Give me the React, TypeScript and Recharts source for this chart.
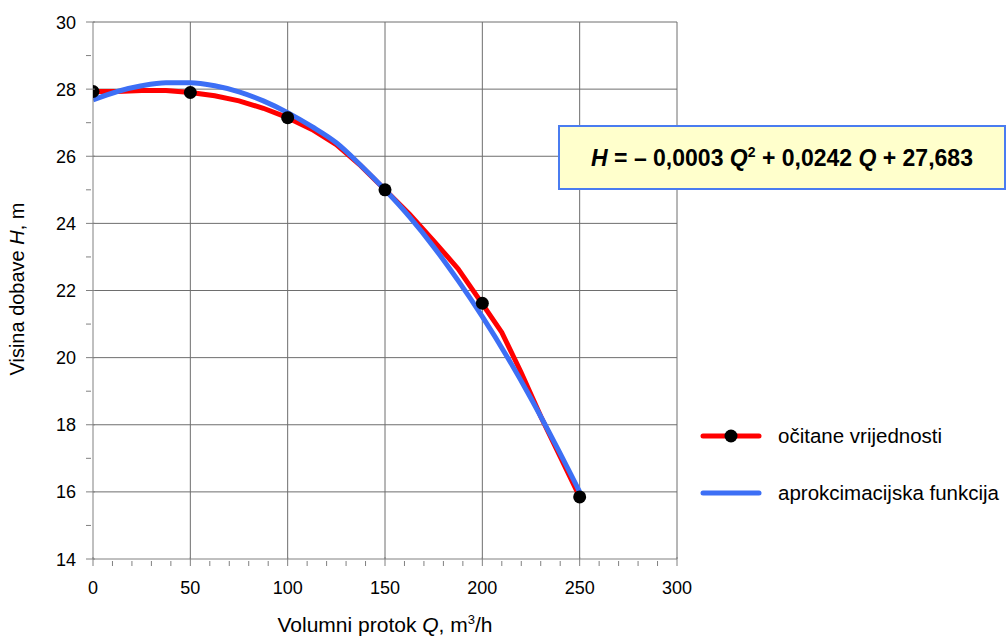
/**
 * Pump curve H(Q): read values with smoothed fit.
 */
import {
  ComposedChart, Line, Scatter, XAxis, YAxis, ReferenceLine,
} from "recharts"

// read curve (očitane vrijednosti)
const READ_Q = [0, 12.5, 25, 37.5, 50, 62.5, 75, 87.5, 100, 112.5, 125, 137.5, 150, 162.5, 175, 187.5, 200, 210, 220, 230, 240, 250]
const READ_H = [27.93, 27.93, 27.96, 27.96, 27.9, 27.8, 27.65, 27.43, 27.15, 26.8, 26.35, 25.72, 25.0, 24.28, 23.48, 22.65, 21.6, 20.75, 19.55, 18.25, 17.05, 15.85]

// markers on the read curve
const POINT_Q = [0, 50, 100, 150, 200, 250]
const POINT_H = [27.93, 27.9, 27.15, 25.0, 21.62, 15.85]

// approximation (aprokcimacijska funkcija)
const FIT_Q = [0, 12.5, 25, 37.5, 50, 62.5, 75, 87.5, 100, 112.5, 125, 137.5, 150, 162.5, 175, 187.5, 200, 212.5, 225, 237.5, 250]
const FIT_H = [27.68, 27.93, 28.1, 28.19, 28.19, 28.1, 27.92, 27.65, 27.3, 26.88, 26.4, 25.73, 25.0, 24.2, 23.3, 22.3, 21.22, 20.05, 18.78, 17.42, 16.0]

const X_MAJOR = [0, 50, 100, 150, 200, 250, 300]
const Y_MAJOR = [14, 16, 18, 20, 22, 24, 26, 28, 30]
const X_TICKS = Array.from({ length: 31 }, (_, i) => i * 10)
const Y_TICKS = Array.from({ length: 17 }, (_, i) => 14 + i)

const FONT = "'Liberation Sans', Arial, sans-serif"
const AXIS = "#808080"
const GRID = "#6e6e6e"
const RED = "#ff0000"
const BLUE = "#3d6ff5"

const readData = READ_Q.map((q, i) => ({ q, h: READ_H[i] }))
const fitData = FIT_Q.map((q, i) => ({ q, h: FIT_H[i] }))
const pointData = POINT_Q.map((q, i) => ({ q, h: POINT_H[i] }))

function XTick({ x, y, payload }: any) {
  const major = payload.value % 50 === 0
  return (
    <g>
      <line x1={x} x2={x} y1={major ? y - 4 : y} y2={y + 5} stroke={AXIS} strokeWidth={1} />
      {major && (
        <text x={x} y={y + 33} textAnchor="middle" fontSize={18} fill="#000" fontFamily={FONT}>
          {payload.value}
        </text>
      )}
    </g>
  )
}

function YTick({ x, y, payload }: any) {
  const major = payload.value % 2 === 0
  return (
    <g>
      <line x1={x - 5} x2={major ? x + 4 : x} y1={y} y2={y} stroke={AXIS} strokeWidth={1} />
      {major && (
        <text x={x - 15} y={y + 6.5} textAnchor="end" fontSize={18} fill="#000" fontFamily={FONT}>
          {payload.value}
        </text>
      )}
    </g>
  )
}

function Marker({ cx, cy }: any) {
  return <circle cx={cx} cy={cy} r={6.5} fill="#000" />
}

function LegendBox() {
  const row = (label: string, colour: string, dot: boolean) => (
    <div style={{ display: "flex", alignItems: "center", height: 57 }}>
      <svg width={62} height={16} style={{ marginRight: 16 }}>
        <line x1={3} x2={59} y1={8} y2={8} stroke={colour} strokeWidth={5} strokeLinecap="round" />
        {dot && <circle cx={31} cy={8} r={6.5} fill="#000" />}
      </svg>
      <span style={{ fontSize: 20.5, fontFamily: FONT, color: "#000", whiteSpace: "nowrap" }}>{label}</span>
    </div>
  )
  return (
    <div style={{ position: "absolute", left: 700, top: 407 }}>
      {row("očitane vrijednosti", RED, true)}
      {row("aprokcimacijska funkcija", BLUE, false)}
    </div>
  )
}

export default function App() {
  return (
    <div style={{ position: "absolute", left: 0, top: 0, width: 1006, height: 639, background: "#fff", overflow: "hidden" }}>
      <ComposedChart width={1006} height={639} margin={{ top: 22, right: 329, left: 33, bottom: 50 }}>
        <XAxis
          type="number" dataKey="q" domain={[0, 300]} ticks={X_TICKS} interval={0}
          stroke={AXIS} tickSize={0} tickLine={false} tick={<XTick />} height={30}
          allowDataOverflow
        />
        <YAxis
          type="number" dataKey="h" domain={[14, 30]} ticks={Y_TICKS} interval={0}
          stroke={AXIS} tickSize={0} tickLine={false} tick={<YTick />} width={60}
          allowDataOverflow
        />
        {X_MAJOR.slice(1).map(v => (
          <ReferenceLine key={"x" + v} x={v} stroke={GRID} strokeWidth={1} />
        ))}
        {Y_MAJOR.slice(1).map(v => (
          <ReferenceLine key={"y" + v} y={v} stroke={GRID} strokeWidth={1} />
        ))}
        <Line data={readData} dataKey="h" type="linear" stroke={RED} strokeWidth={5}
          dot={false} activeDot={false} isAnimationActive={false} />
        <Line data={fitData} dataKey="h" type="monotone" stroke={BLUE} strokeWidth={5}
          dot={false} activeDot={false} isAnimationActive={false} />
        <Scatter data={pointData} dataKey="h" shape={<Marker />} isAnimationActive={false} />
      </ComposedChart>

      <LegendBox />

      <div style={{
        position: "absolute", left: 558, top: 125, width: 444, height: 61,
        background: "#ffffcc", border: "2px solid #4a7cf0",
        display: "flex", alignItems: "center", justifyContent: "center",
        fontFamily: FONT, fontWeight: "bold", fontSize: 23, color: "#000",
      }}>
        <span>
          <i>H</i> = – 0,0003 <i>Q</i><sup style={{ fontSize: 14 }}>2</sup> + 0,0242 <i>Q</i> + 27,683
        </span>
      </div>

      <div style={{
        position: "absolute", left: 0, top: 612, width: 770, textAlign: "center",
        fontFamily: FONT, fontSize: 21, color: "#000",
      }}>
        Volumni protok <i>Q</i>, m<sup style={{ fontSize: 13 }}>3</sup>/h
      </div>

      <div style={{
        position: "absolute", left: 17, top: 289, transform: "translate(-50%, -50%) rotate(-90deg)",
        whiteSpace: "nowrap", fontFamily: FONT, fontSize: 20, color: "#000",
      }}>
        Visina dobave <i>H</i>, m
      </div>
    </div>
  )
}
